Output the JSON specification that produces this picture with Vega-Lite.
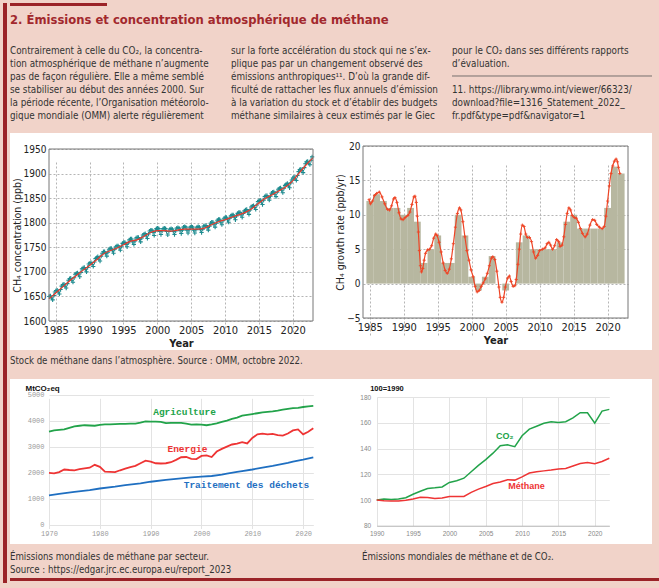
{
"$schema": "https://vega.github.io/schema/vega-lite/v6.json",
"background": "#f1d3c9",
"padding": {"left": 3, "top": 3, "right": 0, "bottom": 5},
"config": {
  "view": {"stroke": null},
  "font": "DejaVu Sans Condensed, sans-serif",
  "axis": {"labelFont": "DejaVu Sans Condensed, sans-serif", "titleFont": "DejaVu Sans Condensed, sans-serif", "labelFlush": false, "labelOverlap": false, "minExtent": 0, "tickCount": 50},
  "title": {"font": "DejaVu Sans Condensed, sans-serif"}
},
"spacing": 3,
"hconcat": [
  {"width": 4, "height": 580, "view": {"fill": "#9b2328", "stroke": null}, "data": {"values": []}, "mark": "point"},
  {"spacing": 0,
   "vconcat": [
    {"width": 97, "height": 3, "view": {"fill": "#9b2328", "stroke": null}, "data": {"values": []}, "mark": "point"},
    {"width": 642, "height": 127,
     "layer": [
      {"data": {"values": [{"t": "2. Émissions et concentration atmosphérique de méthane"}]},
       "mark": {"type": "text", "align": "left", "baseline": "middle", "fontSize": 12.9, "fontWeight": "bold", "color": "#a2282d"},
       "encoding": {
         "x": {"datum": 1, "type": "quantitative", "scale": {"domain": [1, 3], "range": [0, 442], "nice": false, "zero": false}, "axis": null},
         "y": {"datum": -1.385, "type": "quantitative", "scale": {"domain": [-2.4615, 7.3077], "range": [0, 127], "nice": false, "zero": false}, "axis": null},
         "text": {"field": "t"}
       }},
      {"data": {"values": [
        {"c": 1, "l": 1, "t": "Contrairement à celle du CO₂, la concentra-"},
        {"c": 1, "l": 2, "t": "tion atmosphérique de méthane n’augmente"},
        {"c": 1, "l": 3, "t": "pas de façon régulière. Elle a même semblé"},
        {"c": 1, "l": 4, "t": "se stabiliser au début des années 2000. Sur"},
        {"c": 1, "l": 5, "t": "la période récente, l’Organisation météorolo-"},
        {"c": 1, "l": 6, "t": "gique mondiale (OMM) alerte régulièrement"},
        {"c": 2, "l": 1, "t": "sur la forte accélération du stock qui ne s’ex-"},
        {"c": 2, "l": 2, "t": "plique pas par un changement observé des"},
        {"c": 2, "l": 3, "t": "émissions anthropiques¹¹. D’où la grande dif-"},
        {"c": 2, "l": 4, "t": "ficulté de rattacher les flux annuels d’émission"},
        {"c": 2, "l": 5, "t": "à la variation du stock et d’établir des budgets"},
        {"c": 2, "l": 6, "t": "méthane similaires à ceux estimés par le Giec"},
        {"c": 3, "l": 1, "t": "pour le CO₂ dans ses différents rapports"},
        {"c": 3, "l": 2, "t": "d’évaluation."},
        {"c": 3, "l": 4, "t": "11. https://library.wmo.int/viewer/66323/"},
        {"c": 3, "l": 5, "t": "download?file=1316_Statement_2022_"},
        {"c": 3, "l": 6, "t": "fr.pdf&type=pdf&navigator=1"}
       ]},
       "mark": {"type": "text", "align": "left", "baseline": "middle", "fontSize": 9.8, "color": "#333333"},
       "encoding": {
         "x": {"field": "c", "type": "quantitative", "axis": null},
         "y": {"field": "l", "type": "quantitative", "axis": null},
         "text": {"field": "t"}
       }},
      {"data": {"values": [{}]}, "mark": {"type": "rule", "color": "#555555", "strokeWidth": 0.8},
       "encoding": {"x": {"datum": 3, "axis": null}, "x2": {"datum": 3.905}, "y": {"datum": 2.923, "axis": null}}}
     ]},
    {"spacing": 0,
     "hconcat": [
      {"width": 321, "height": 217,
       "view": {"fill": "white", "stroke": null},
       "title": {"text": "Stock de méthane dans l’atmosphère. Source : OMM, octobre 2022.", "orient": "bottom", "anchor": "start", "offset": 14, "baseline": "alphabetic", "fontSize": 9.6, "fontWeight": "normal", "color": "#333333"},
       "layer": [
        {"data": {"values": [
{"t":1984.04,"v":1650},{"t":1984.21,"v":1651},{"t":1984.37,"v":1647},{"t":1984.54,"v":1643},{"t":1984.71,"v":1652},{"t":1984.87,"v":1659},
{"t":1985.04,"v":1662},{"t":1985.21,"v":1663},{"t":1985.37,"v":1659},{"t":1985.54,"v":1655},{"t":1985.71,"v":1664},{"t":1985.87,"v":1671},
{"t":1986.04,"v":1674},{"t":1986.21,"v":1675},{"t":1986.37,"v":1671},{"t":1986.54,"v":1667},{"t":1986.71,"v":1676},{"t":1986.87,"v":1683},
{"t":1987.04,"v":1686},{"t":1987.21,"v":1687},{"t":1987.37,"v":1683},{"t":1987.54,"v":1679},{"t":1987.71,"v":1688},{"t":1987.87,"v":1695},
{"t":1988.04,"v":1697},{"t":1988.21,"v":1698},{"t":1988.37,"v":1694},{"t":1988.54,"v":1690},{"t":1988.71,"v":1699},{"t":1988.87,"v":1706},
{"t":1989.04,"v":1708},{"t":1989.21,"v":1709},{"t":1989.37,"v":1705},{"t":1989.54,"v":1700},{"t":1989.71,"v":1709},{"t":1989.87,"v":1716},
{"t":1990.04,"v":1718},{"t":1990.21,"v":1719},{"t":1990.37,"v":1715},{"t":1990.54,"v":1711},{"t":1990.71,"v":1720},{"t":1990.87,"v":1727},
{"t":1991.04,"v":1729},{"t":1991.21,"v":1731},{"t":1991.37,"v":1726},{"t":1991.54,"v":1722},{"t":1991.71,"v":1732},{"t":1991.87,"v":1738},
{"t":1992.04,"v":1741},{"t":1992.21,"v":1741},{"t":1992.37,"v":1737},{"t":1992.54,"v":1732},{"t":1992.71,"v":1740},{"t":1992.87,"v":1746},
{"t":1993.04,"v":1748},{"t":1993.21,"v":1748},{"t":1993.37,"v":1743},{"t":1993.54,"v":1738},{"t":1993.71,"v":1746},{"t":1993.87,"v":1751},
{"t":1994.04,"v":1753},{"t":1994.21,"v":1753},{"t":1994.37,"v":1749},{"t":1994.54,"v":1744},{"t":1994.71,"v":1752},{"t":1994.87,"v":1758},
{"t":1995.04,"v":1760},{"t":1995.21,"v":1760},{"t":1995.37,"v":1756},{"t":1995.54,"v":1751},{"t":1995.71,"v":1759},{"t":1995.87,"v":1765},
{"t":1996.04,"v":1767},{"t":1996.21,"v":1767},{"t":1996.37,"v":1761},{"t":1996.54,"v":1756},{"t":1996.71,"v":1763},{"t":1996.87,"v":1769},
{"t":1997.04,"v":1770},{"t":1997.21,"v":1770},{"t":1997.37,"v":1766},{"t":1997.54,"v":1761},{"t":1997.71,"v":1769},{"t":1997.87,"v":1775},
{"t":1998.04,"v":1777},{"t":1998.21,"v":1778},{"t":1998.37,"v":1773},{"t":1998.54,"v":1768},{"t":1998.71,"v":1777},{"t":1998.87,"v":1783},
{"t":1999.04,"v":1785},{"t":1999.21,"v":1785},{"t":1999.37,"v":1780},{"t":1999.54,"v":1774},{"t":1999.71,"v":1783},{"t":1999.87,"v":1788},
{"t":2000.04,"v":1789},{"t":2000.21,"v":1788},{"t":2000.37,"v":1782},{"t":2000.54,"v":1776},{"t":2000.71,"v":1783},{"t":2000.87,"v":1788},
{"t":2001.04,"v":1789},{"t":2001.21,"v":1788},{"t":2001.37,"v":1782},{"t":2001.54,"v":1775},{"t":2001.71,"v":1782},{"t":2001.87,"v":1787},
{"t":2002.04,"v":1788},{"t":2002.21,"v":1787},{"t":2002.37,"v":1782},{"t":2002.54,"v":1776},{"t":2002.71,"v":1783},{"t":2002.87,"v":1789},
{"t":2003.04,"v":1790},{"t":2003.21,"v":1789},{"t":2003.37,"v":1784},{"t":2003.54,"v":1778},{"t":2003.71,"v":1785},{"t":2003.87,"v":1791},
{"t":2004.04,"v":1792},{"t":2004.21,"v":1791},{"t":2004.37,"v":1785},{"t":2004.54,"v":1779},{"t":2004.71,"v":1786},{"t":2004.87,"v":1791},
{"t":2005.04,"v":1792},{"t":2005.21,"v":1791},{"t":2005.37,"v":1785},{"t":2005.54,"v":1779},{"t":2005.71,"v":1786},{"t":2005.87,"v":1791},
{"t":2006.04,"v":1792},{"t":2006.21,"v":1791},{"t":2006.37,"v":1786},{"t":2006.54,"v":1780},{"t":2006.71,"v":1787},{"t":2006.87,"v":1793},
{"t":2007.04,"v":1794},{"t":2007.21,"v":1794},{"t":2007.37,"v":1790},{"t":2007.54,"v":1785},{"t":2007.71,"v":1793},{"t":2007.87,"v":1799},
{"t":2008.04,"v":1801},{"t":2008.21,"v":1801},{"t":2008.37,"v":1796},{"t":2008.54,"v":1791},{"t":2008.71,"v":1799},{"t":2008.87,"v":1805},
{"t":2009.04,"v":1807},{"t":2009.21,"v":1807},{"t":2009.37,"v":1801},{"t":2009.54,"v":1796},{"t":2009.71,"v":1804},{"t":2009.87,"v":1809},
{"t":2010.04,"v":1811},{"t":2010.21,"v":1811},{"t":2010.37,"v":1806},{"t":2010.54,"v":1801},{"t":2010.71,"v":1809},{"t":2010.87,"v":1814},
{"t":2011.04,"v":1816},{"t":2011.21,"v":1816},{"t":2011.37,"v":1811},{"t":2011.54,"v":1806},{"t":2011.71,"v":1814},{"t":2011.87,"v":1819},
{"t":2012.04,"v":1821},{"t":2012.21,"v":1821},{"t":2012.37,"v":1816},{"t":2012.54,"v":1811},{"t":2012.71,"v":1819},{"t":2012.87,"v":1824},
{"t":2013.04,"v":1826},{"t":2013.21,"v":1827},{"t":2013.37,"v":1822},{"t":2013.54,"v":1817},{"t":2013.71,"v":1826},{"t":2013.87,"v":1832},
{"t":2014.04,"v":1834},{"t":2014.21,"v":1835},{"t":2014.37,"v":1831},{"t":2014.54,"v":1827},{"t":2014.71,"v":1836},{"t":2014.87,"v":1843},
{"t":2015.04,"v":1845},{"t":2015.21,"v":1846},{"t":2015.37,"v":1842},{"t":2015.54,"v":1837},{"t":2015.71,"v":1846},{"t":2015.87,"v":1853},
{"t":2016.04,"v":1855},{"t":2016.21,"v":1855},{"t":2016.37,"v":1851},{"t":2016.54,"v":1846},{"t":2016.71,"v":1854},{"t":2016.87,"v":1860},
{"t":2017.04,"v":1862},{"t":2017.21,"v":1863},{"t":2017.37,"v":1858},{"t":2017.54,"v":1853},{"t":2017.71,"v":1862},{"t":2017.87,"v":1868},
{"t":2018.04,"v":1870},{"t":2018.21,"v":1871},{"t":2018.37,"v":1866},{"t":2018.54,"v":1861},{"t":2018.71,"v":1870},{"t":2018.87,"v":1876},
{"t":2019.04,"v":1878},{"t":2019.21,"v":1880},{"t":2019.37,"v":1875},{"t":2019.54,"v":1871},{"t":2019.71,"v":1881},{"t":2019.87,"v":1887},
{"t":2020.04,"v":1891},{"t":2020.21,"v":1893},{"t":2020.37,"v":1889},{"t":2020.54,"v":1886},{"t":2020.71,"v":1896},{"t":2020.87,"v":1904},
{"t":2021.04,"v":1908},{"t":2021.21,"v":1909},{"t":2021.37,"v":1906},{"t":2021.54,"v":1902},{"t":2021.71,"v":1912},{"t":2021.87,"v":1920},
{"t":2022.04,"v":1924},{"t":2022.21,"v":1925},{"t":2022.37,"v":1921},{"t":2022.54,"v":1918},{"t":2022.71,"v":1927},{"t":2022.87,"v":1934}
         ]},
         "mark": {"type": "point", "shape": "M-1,0H1M0,-1V1", "filled": false, "color": "#1d8b8f", "strokeWidth": 1.1, "size": 18, "opacity": 1},
         "encoding": {
           "x": {"field": "t", "type": "quantitative", "scale": {"domain": [1984, 2023], "range": [39, 303], "nice": false, "zero": false},
                 "axis": {"orient": "bottom", "offset": -29, "values": [1985,1990,1995,2000,2005,2010,2015,2020], "tickCount": 50, "format": "d", "grid": true, "gridDash": [2,2], "gridColor": "#b5b5b5", "domain": false, "ticks": false, "labelFontSize": 11, "labelColor": "#222222", "labelPadding": 3, "labelOverlap": false, "title": "Year", "titleFontSize": 11, "titleFontWeight": "bold", "titleColor": "#222222", "titlePadding": 2}},
           "y": {"field": "v", "type": "quantitative", "scale": {"domain": [1600, 1950], "range": [188, 16], "nice": false, "zero": false},
                 "axis": {"orient": "left", "offset": -39, "values": [1600,1650,1700,1750,1800,1850,1900,1950], "tickCount": 50, "format": "d", "grid": true, "gridDash": [2,2], "gridColor": "#b5b5b5", "domain": false, "ticks": false, "labelFontSize": 10, "labelColor": "#222222", "labelPadding": 3, "labelOverlap": false, "title": "CH₄ concentration (ppb)", "titleFontSize": 10.5, "titleFontWeight": "normal", "titleColor": "#222222", "titlePadding": 1}}
         }},
        {"data": {"values": [
{"t":1984,"v":1645},{"t":1985,"v":1657},{"t":1986,"v":1669},{"t":1987,"v":1681},{"t":1988,"v":1692},{"t":1989,"v":1703},{"t":1990,"v":1713},{"t":1991,"v":1724},{"t":1992,"v":1736},{"t":1993,"v":1743},{"t":1994,"v":1748},{"t":1995,"v":1755},{"t":1996,"v":1762},{"t":1997,"v":1765},{"t":1998,"v":1772},{"t":1999,"v":1780},{"t":2000,"v":1784},{"t":2001,"v":1784},{"t":2002,"v":1783},{"t":2003,"v":1785},{"t":2004,"v":1787},{"t":2005,"v":1787},{"t":2006,"v":1787},{"t":2007,"v":1789},{"t":2008,"v":1796},{"t":2009,"v":1802},{"t":2010,"v":1806},{"t":2011,"v":1811},{"t":2012,"v":1816},{"t":2013,"v":1821},{"t":2014,"v":1829},{"t":2015,"v":1840},{"t":2016,"v":1850},{"t":2017,"v":1857},{"t":2018,"v":1865},{"t":2019,"v":1873},{"t":2020,"v":1885},{"t":2021,"v":1902},{"t":2022,"v":1918},{"t":2023,"v":1932}
         ]},
         "mark": {"type": "line", "color": "#e8382b", "strokeWidth": 1.2, "interpolate": "monotone"},
         "encoding": {"x": {"field": "t", "type": "quantitative"}, "y": {"field": "v", "type": "quantitative"}}},
        {"data": {"values": [{}]}, "mark": {"type": "rect", "fillOpacity": 0, "stroke": "#777777", "strokeWidth": 1},
         "encoding": {"x": {"datum": 1984}, "x2": {"datum": 2023}, "y": {"datum": 1600}, "y2": {"datum": 1950}}}
       ]},
      {"width": 321, "height": 217,
       "view": {"fill": "white", "stroke": null},
       "layer": [
        {"data": {"values": [
{"a":1984.5,"b":1985.5,"g":12},{"a":1985.5,"b":1986.5,"g":13},{"a":1986.5,"b":1987.5,"g":12},{"a":1987.5,"b":1988.5,"g":11},{"a":1988.5,"b":1989.5,"g":11},{"a":1989.5,"b":1990.5,"g":10},{"a":1990.5,"b":1991.5,"g":11},{"a":1991.5,"b":1992.5,"g":9},{"a":1992.5,"b":1993.5,"g":3},{"a":1993.5,"b":1994.5,"g":5},{"a":1994.5,"b":1995.5,"g":7},{"a":1995.5,"b":1996.5,"g":3},{"a":1996.5,"b":1997.5,"g":3},{"a":1997.5,"b":1998.5,"g":10},{"a":1998.5,"b":1999.5,"g":7},{"a":1999.5,"b":2000.5,"g":1},{"a":2000.5,"b":2001.5,"g":-1},{"a":2001.5,"b":2002.5,"g":1},{"a":2002.5,"b":2003.5,"g":4},{"a":2003.5,"b":2004.5,"g":0},{"a":2004.5,"b":2005.5,"g":-1},{"a":2005.5,"b":2006.5,"g":0},{"a":2006.5,"b":2007.5,"g":6},{"a":2007.5,"b":2008.5,"g":7},{"a":2008.5,"b":2009.5,"g":5},{"a":2009.5,"b":2010.5,"g":5},{"a":2010.5,"b":2011.5,"g":5},{"a":2011.5,"b":2012.5,"g":5},{"a":2012.5,"b":2013.5,"g":6},{"a":2013.5,"b":2014.5,"g":9},{"a":2014.5,"b":2015.5,"g":10},{"a":2015.5,"b":2016.5,"g":8},{"a":2016.5,"b":2017.5,"g":8},{"a":2017.5,"b":2018.5,"g":8},{"a":2018.5,"b":2019.5,"g":8},{"a":2019.5,"b":2020.5,"g":11},{"a":2020.5,"b":2021.5,"g":17},{"a":2021.5,"b":2022.5,"g":16}
         ]},
         "mark": {"type": "rect", "color": "#b7b7a0"},
         "encoding": {
           "x": {"field": "a", "type": "quantitative", "scale": {"domain": [1984, 2023], "range": [32, 297], "nice": false, "zero": false},
                 "axis": {"orient": "bottom", "offset": -32, "values": [1985,1990,1995,2000,2005,2010,2015,2020], "tickCount": 50, "format": "d", "grid": true, "gridDash": [2,2], "gridColor": "#b5b5b5", "domain": false, "ticks": false, "labelFontSize": 11, "labelColor": "#222222", "labelPadding": 3, "labelOverlap": false, "title": "Year", "titleFontSize": 11, "titleFontWeight": "bold", "titleColor": "#222222", "titlePadding": 2}},
           "x2": {"field": "b"},
           "y": {"field": "g", "type": "quantitative", "scale": {"domain": [-5, 20], "range": [185, 13], "nice": false, "zero": false},
                 "axis": {"orient": "left", "offset": -32, "values": [-5,0,5,10,15,20], "tickCount": 50, "format": "d", "grid": true, "gridDash": [2,2], "gridColor": "#b5b5b5", "domain": false, "ticks": false, "labelFontSize": 10, "labelColor": "#222222", "labelPadding": 3, "labelOverlap": false, "title": "CH₄ growth rate (ppb/yr)", "titleFontSize": 10.5, "titleFontWeight": "normal", "titleColor": "#222222", "titlePadding": 1}},
           "y2": {"datum": 0}
         }},
        {"data": {"name": "gr", "values": [
{"t":1984.9,"g":12.2},{"t":1985.1,"g":11.6},{"t":1985.4,"g":12.0},{"t":1985.7,"g":12.8},{"t":1986.0,"g":13.1},{"t":1986.4,"g":13.3},{"t":1986.8,"g":12.6},{"t":1987.2,"g":11.6},{"t":1987.6,"g":10.8},{"t":1987.9,"g":10.7},{"t":1988.2,"g":11.3},{"t":1988.5,"g":12.3},{"t":1988.7,"g":12.5},{"t":1989.0,"g":11.8},{"t":1989.3,"g":10.3},{"t":1989.6,"g":9.4},{"t":1989.9,"g":9.3},{"t":1990.2,"g":9.6},{"t":1990.6,"g":9.9},{"t":1990.9,"g":10.4},{"t":1991.2,"g":11.5},{"t":1991.5,"g":12.6},{"t":1991.65,"g":12.7},{"t":1991.85,"g":11.8},{"t":1992.0,"g":9.8},{"t":1992.15,"g":7.5},{"t":1992.3,"g":4.8},{"t":1992.45,"g":2.6},{"t":1992.6,"g":1.7},{"t":1992.8,"g":2.2},{"t":1993.0,"g":3.4},{"t":1993.2,"g":4.4},{"t":1993.5,"g":4.9},{"t":1993.8,"g":5.0},{"t":1994.1,"g":5.5},{"t":1994.4,"g":6.6},{"t":1994.7,"g":7.2},{"t":1994.9,"g":7.0},{"t":1995.2,"g":6.0},{"t":1995.5,"g":4.6},{"t":1995.8,"g":3.0},{"t":1996.1,"g":1.9},{"t":1996.4,"g":1.5},{"t":1996.7,"g":2.1},{"t":1997.0,"g":3.6},{"t":1997.3,"g":5.8},{"t":1997.6,"g":8.2},{"t":1997.9,"g":10.2},{"t":1998.2,"g":11.0},{"t":1998.4,"g":10.7},{"t":1998.7,"g":9.0},{"t":1999.0,"g":6.8},{"t":1999.3,"g":4.8},{"t":1999.6,"g":3.4},{"t":1999.9,"g":2.0},{"t":2000.2,"g":1.0},{"t":2000.5,"g":-0.4},{"t":2000.8,"g":-1.2},{"t":2001.1,"g":-1.0},{"t":2001.4,"g":-0.4},{"t":2001.7,"g":0.1},{"t":2002.0,"g":0.7},{"t":2002.3,"g":1.5},{"t":2002.6,"g":2.6},{"t":2002.9,"g":3.7},{"t":2003.1,"g":3.9},{"t":2003.4,"g":3.5},{"t":2003.7,"g":1.8},{"t":2004.0,"g":-0.5},{"t":2004.2,"g":-2.0},{"t":2004.45,"g":-2.7},{"t":2004.7,"g":-2.0},{"t":2004.95,"g":-0.5},{"t":2005.3,"g":0.8},{"t":2005.55,"g":1.1},{"t":2005.8,"g":0.3},{"t":2006.1,"g":-0.4},{"t":2006.35,"g":-0.3},{"t":2006.55,"g":0.6},{"t":2006.8,"g":2.8},{"t":2007.0,"g":5.0},{"t":2007.2,"g":7.2},{"t":2007.45,"g":8.5},{"t":2007.7,"g":8.3},{"t":2007.95,"g":7.2},{"t":2008.2,"g":6.7},{"t":2008.5,"g":6.7},{"t":2008.8,"g":6.1},{"t":2009.1,"g":4.6},{"t":2009.4,"g":3.7},{"t":2009.7,"g":4.1},{"t":2010.0,"g":4.8},{"t":2010.4,"g":5.0},{"t":2010.8,"g":5.2},{"t":2011.1,"g":5.8},{"t":2011.35,"g":6.0},{"t":2011.6,"g":5.6},{"t":2011.9,"g":5.0},{"t":2012.2,"g":5.5},{"t":2012.5,"g":6.4},{"t":2012.8,"g":6.1},{"t":2013.0,"g":5.4},{"t":2013.3,"g":5.6},{"t":2013.55,"g":6.8},{"t":2013.8,"g":8.6},{"t":2014.05,"g":10.2},{"t":2014.3,"g":11.0},{"t":2014.55,"g":10.7},{"t":2014.8,"g":9.9},{"t":2015.1,"g":9.6},{"t":2015.4,"g":9.5},{"t":2015.7,"g":8.9},{"t":2016.0,"g":8.0},{"t":2016.3,"g":7.3},{"t":2016.7,"g":6.8},{"t":2017.0,"g":7.2},{"t":2017.4,"g":8.5},{"t":2017.8,"g":9.3},{"t":2018.1,"g":9.2},{"t":2018.4,"g":8.6},{"t":2018.8,"g":8.2},{"t":2019.2,"g":8.0},{"t":2019.5,"g":8.3},{"t":2019.75,"g":9.8},{"t":2020.0,"g":12.0},{"t":2020.25,"g":14.2},{"t":2020.5,"g":16.0},{"t":2020.75,"g":17.1},{"t":2021.0,"g":17.8},{"t":2021.25,"g":18.1},{"t":2021.45,"g":17.7},{"t":2021.6,"g":16.9},{"t":2021.8,"g":16.0}
         ]},
         "mark": {"type": "line", "color": "#ee4526", "strokeWidth": 1.2, "interpolate": "monotone"},
         "encoding": {"x": {"field": "t", "type": "quantitative"}, "y": {"field": "g", "type": "quantitative"}}},
        {"data": {"name": "gr"},
         "mark": {"type": "point", "shape": "M-1,0H1M0,-1V1", "filled": false, "color": "#ee4526", "strokeWidth": 0.9, "size": 10, "opacity": 1},
         "encoding": {"x": {"field": "t", "type": "quantitative"}, "y": {"field": "g", "type": "quantitative"}}},
        {"data": {"values": [{}]}, "mark": {"type": "rect", "fillOpacity": 0, "stroke": "#777777", "strokeWidth": 1},
         "encoding": {"x": {"datum": 1984}, "x2": {"datum": 2023}, "y": {"datum": -5}, "y2": {"datum": 20}}}
       ]}
     ]},
    {"width": 1, "height": 12.2, "data": {"values": []}, "mark": "point"},
    {"spacing": 0,
     "hconcat": [
      {"width": 320, "height": 165,
       "view": {"fill": "white", "stroke": null},
       "title": {"text": ["Émissions mondiales de méthane par secteur.", "Source : https://edgar.jrc.ec.europa.eu/report_2023"], "orient": "bottom", "anchor": "start", "offset": 16, "baseline": "alphabetic", "lineHeight": 13, "fontSize": 9.6, "fontWeight": "normal", "color": "#333333"},
       "layer": [
        {"data": {"values": [
{"s":"agr","year":1970,"v":3570},{"s":"agr","year":1971,"v":3620},{"s":"agr","year":1972,"v":3640},{"s":"agr","year":1973,"v":3660},{"s":"agr","year":1974,"v":3720},{"s":"agr","year":1975,"v":3780},{"s":"agr","year":1976,"v":3800},{"s":"agr","year":1977,"v":3820},{"s":"agr","year":1978,"v":3810},{"s":"agr","year":1979,"v":3800},{"s":"agr","year":1980,"v":3830},{"s":"agr","year":1981,"v":3850},{"s":"agr","year":1982,"v":3850},{"s":"agr","year":1983,"v":3860},{"s":"agr","year":1984,"v":3870},{"s":"agr","year":1985,"v":3870},{"s":"agr","year":1986,"v":3880},{"s":"agr","year":1987,"v":3880},{"s":"agr","year":1988,"v":3920},{"s":"agr","year":1989,"v":3970},{"s":"agr","year":1990,"v":3960},{"s":"agr","year":1991,"v":3960},{"s":"agr","year":1992,"v":3950},{"s":"agr","year":1993,"v":3900},{"s":"agr","year":1994,"v":3910},{"s":"agr","year":1995,"v":3910},{"s":"agr","year":1996,"v":3910},{"s":"agr","year":1997,"v":3880},{"s":"agr","year":1998,"v":3840},{"s":"agr","year":1999,"v":3850},{"s":"agr","year":2000,"v":3840},{"s":"agr","year":2001,"v":3820},{"s":"agr","year":2002,"v":3850},{"s":"agr","year":2003,"v":3890},{"s":"agr","year":2004,"v":3950},{"s":"agr","year":2005,"v":4000},{"s":"agr","year":2006,"v":4060},{"s":"agr","year":2007,"v":4110},{"s":"agr","year":2008,"v":4190},{"s":"agr","year":2009,"v":4220},{"s":"agr","year":2010,"v":4250},{"s":"agr","year":2011,"v":4280},{"s":"agr","year":2012,"v":4310},{"s":"agr","year":2013,"v":4330},{"s":"agr","year":2014,"v":4350},{"s":"agr","year":2015,"v":4380},{"s":"agr","year":2016,"v":4420},{"s":"agr","year":2017,"v":4450},{"s":"agr","year":2018,"v":4480},{"s":"agr","year":2019,"v":4490},{"s":"agr","year":2020,"v":4520},{"s":"agr","year":2021,"v":4540},{"s":"agr","year":2022,"v":4560},
{"s":"ene","year":1970,"v":1990},{"s":"ene","year":1971,"v":1970},{"s":"ene","year":1972,"v":2020},{"s":"ene","year":1973,"v":2120},{"s":"ene","year":1974,"v":2100},{"s":"ene","year":1975,"v":2090},{"s":"ene","year":1976,"v":2130},{"s":"ene","year":1977,"v":2160},{"s":"ene","year":1978,"v":2190},{"s":"ene","year":1979,"v":2300},{"s":"ene","year":1980,"v":2220},{"s":"ene","year":1981,"v":2040},{"s":"ene","year":1982,"v":2030},{"s":"ene","year":1983,"v":2020},{"s":"ene","year":1984,"v":2090},{"s":"ene","year":1985,"v":2150},{"s":"ene","year":1986,"v":2210},{"s":"ene","year":1987,"v":2260},{"s":"ene","year":1988,"v":2360},{"s":"ene","year":1989,"v":2460},{"s":"ene","year":1990,"v":2420},{"s":"ene","year":1991,"v":2360},{"s":"ene","year":1992,"v":2350},{"s":"ene","year":1993,"v":2360},{"s":"ene","year":1994,"v":2400},{"s":"ene","year":1995,"v":2490},{"s":"ene","year":1996,"v":2590},{"s":"ene","year":1997,"v":2600},{"s":"ene","year":1998,"v":2530},{"s":"ene","year":1999,"v":2520},{"s":"ene","year":2000,"v":2640},{"s":"ene","year":2001,"v":2660},{"s":"ene","year":2002,"v":2600},{"s":"ene","year":2003,"v":2810},{"s":"ene","year":2004,"v":2910},{"s":"ene","year":2005,"v":3000},{"s":"ene","year":2006,"v":3080},{"s":"ene","year":2007,"v":3110},{"s":"ene","year":2008,"v":3170},{"s":"ene","year":2009,"v":3120},{"s":"ene","year":2010,"v":3330},{"s":"ene","year":2011,"v":3470},{"s":"ene","year":2012,"v":3500},{"s":"ene","year":2013,"v":3470},{"s":"ene","year":2014,"v":3490},{"s":"ene","year":2015,"v":3440},{"s":"ene","year":2016,"v":3420},{"s":"ene","year":2017,"v":3500},{"s":"ene","year":2018,"v":3620},{"s":"ene","year":2019,"v":3660},{"s":"ene","year":2020,"v":3470},{"s":"ene","year":2021,"v":3570},{"s":"ene","year":2022,"v":3700},
{"s":"dec","year":1970,"v":1130},{"s":"dec","year":1972,"v":1180},{"s":"dec","year":1975,"v":1260},{"s":"dec","year":1978,"v":1330},{"s":"dec","year":1980,"v":1390},{"s":"dec","year":1983,"v":1460},{"s":"dec","year":1985,"v":1520},{"s":"dec","year":1988,"v":1590},{"s":"dec","year":1990,"v":1650},{"s":"dec","year":1993,"v":1720},{"s":"dec","year":1995,"v":1760},{"s":"dec","year":1998,"v":1820},{"s":"dec","year":2000,"v":1850},{"s":"dec","year":2002,"v":1870},{"s":"dec","year":2004,"v":1920},{"s":"dec","year":2005,"v":1960},{"s":"dec","year":2007,"v":2030},{"s":"dec","year":2008,"v":2060},{"s":"dec","year":2010,"v":2120},{"s":"dec","year":2012,"v":2190},{"s":"dec","year":2014,"v":2260},{"s":"dec","year":2015,"v":2300},{"s":"dec","year":2017,"v":2370},{"s":"dec","year":2018,"v":2420},{"s":"dec","year":2020,"v":2500},{"s":"dec","year":2022,"v":2590}
         ]},
         "mark": {"type": "line", "strokeWidth": 1.8},
         "encoding": {
           "x": {"field": "year", "type": "quantitative", "scale": {"domain": [1970, 2022], "range": [39, 303.3], "nice": false, "zero": false},
                 "axis": {"orient": "bottom", "offset": -19.3, "values": [1970,1980,1990,2000,2010,2020], "tickCount": 50, "format": "d", "grid": true, "gridColor": "#e3e3e3", "domain": false, "ticks": false, "labelFont": "Liberation Mono", "labelFontSize": 7, "labelColor": "#9a9a9a", "labelPadding": 5, "labelOverlap": false, "title": null}},
           "y": {"field": "v", "type": "quantitative", "scale": {"domain": [0, 5000], "range": [145.7, 15.5], "nice": false, "zero": false},
                 "axis": {"orient": "left", "offset": -39, "values": [0,1000,2000,3000,4000,5000], "tickCount": 50, "format": "d", "grid": true, "gridColor": "#e3e3e3", "domain": false, "ticks": false, "labelFont": "Liberation Mono", "labelFontSize": 7, "labelColor": "#9a9a9a", "labelPadding": 5, "labelOverlap": false, "title": "MtCO₂eq", "titleAngle": 0, "titleAlign": "left", "titleBaseline": "middle", "titleX": -24, "titleY": 9, "titleFont": "Liberation Sans", "titleFontSize": 8, "titleFontWeight": "bold", "titleColor": "#111111"}},
           "color": {"field": "s", "type": "nominal", "scale": {"domain": ["agr", "ene", "dec"], "range": ["#22a34a", "#ee3434", "#1f6fc1"]}, "legend": null}
         }},
        {"data": {"values": [
          {"s": "agr", "lab": "Agriculture", "year": 1990.5, "v": 4335},
          {"s": "ene", "lab": "Energie", "year": 1993.3, "v": 2910},
          {"s": "dec", "lab": "Traitement des déchets", "year": 1996.5, "v": 1540}
         ]},
         "mark": {"type": "text", "align": "left", "baseline": "middle", "font": "Liberation Mono", "fontSize": 9.5, "fontWeight": "bold"},
         "encoding": {
           "x": {"field": "year", "type": "quantitative"},
           "y": {"field": "v", "type": "quantitative"},
           "text": {"field": "lab"},
           "color": {"field": "s", "type": "nominal", "legend": null}
         }}
       ]},
      {"width": 322, "height": 165,
       "view": {"fill": "white", "stroke": null},
       "title": {"text": "Émissions mondiales de méthane et de CO₂.", "orient": "bottom", "anchor": "start", "offset": 16, "dx": 32, "baseline": "alphabetic", "fontSize": 9.6, "fontWeight": "normal", "color": "#333333"},
       "layer": [
        {"data": {"values": [
{"s":"co2","year":1990,"v":100},{"s":"co2","year":1991,"v":100.8},{"s":"co2","year":1992,"v":100.5},{"s":"co2","year":1993,"v":100.8},{"s":"co2","year":1994,"v":101.8},{"s":"co2","year":1995,"v":104.5},{"s":"co2","year":1996,"v":106.8},{"s":"co2","year":1997,"v":109},{"s":"co2","year":1998,"v":109.5},{"s":"co2","year":1999,"v":110.2},{"s":"co2","year":2000,"v":113.7},{"s":"co2","year":2001,"v":115},{"s":"co2","year":2002,"v":117},{"s":"co2","year":2003,"v":122},{"s":"co2","year":2004,"v":127},{"s":"co2","year":2005,"v":131.5},{"s":"co2","year":2006,"v":136.5},{"s":"co2","year":2007,"v":142.3},{"s":"co2","year":2008,"v":143},{"s":"co2","year":2009,"v":141.6},{"s":"co2","year":2010,"v":150},{"s":"co2","year":2011,"v":155.2},{"s":"co2","year":2012,"v":157.5},{"s":"co2","year":2013,"v":159.8},{"s":"co2","year":2014,"v":161},{"s":"co2","year":2015,"v":160.3},{"s":"co2","year":2016,"v":161},{"s":"co2","year":2017,"v":164},{"s":"co2","year":2018,"v":168},{"s":"co2","year":2019,"v":168},{"s":"co2","year":2020,"v":159.8},{"s":"co2","year":2021,"v":169.3},{"s":"co2","year":2022,"v":170.6},
{"s":"ch4","year":1990,"v":100},{"s":"ch4","year":1991,"v":99.5},{"s":"ch4","year":1992,"v":99.3},{"s":"ch4","year":1993,"v":99.3},{"s":"ch4","year":1994,"v":99.8},{"s":"ch4","year":1995,"v":100.8},{"s":"ch4","year":1996,"v":102.2},{"s":"ch4","year":1997,"v":102},{"s":"ch4","year":1998,"v":101.2},{"s":"ch4","year":1999,"v":101.5},{"s":"ch4","year":2000,"v":102.8},{"s":"ch4","year":2001,"v":102.8},{"s":"ch4","year":2002,"v":102.8},{"s":"ch4","year":2003,"v":106},{"s":"ch4","year":2004,"v":108.5},{"s":"ch4","year":2005,"v":110.5},{"s":"ch4","year":2006,"v":112.8},{"s":"ch4","year":2007,"v":114},{"s":"ch4","year":2008,"v":115.8},{"s":"ch4","year":2009,"v":115.5},{"s":"ch4","year":2010,"v":118},{"s":"ch4","year":2011,"v":121},{"s":"ch4","year":2012,"v":122},{"s":"ch4","year":2013,"v":122.7},{"s":"ch4","year":2014,"v":123.3},{"s":"ch4","year":2015,"v":124.2},{"s":"ch4","year":2016,"v":124.5},{"s":"ch4","year":2017,"v":126.5},{"s":"ch4","year":2018,"v":128.5},{"s":"ch4","year":2019,"v":129.2},{"s":"ch4","year":2020,"v":128.3},{"s":"ch4","year":2021,"v":130},{"s":"ch4","year":2022,"v":132.5}
         ]},
         "mark": {"type": "line", "strokeWidth": 1.5},
         "encoding": {
           "x": {"field": "year", "type": "quantitative", "scale": {"domain": [1990, 2022], "range": [46.7, 279.3], "nice": false, "zero": false},
                 "axis": {"orient": "bottom", "offset": -18.3, "values": [1990,1995,2000,2005,2010,2015,2020], "tickCount": 50, "format": "d", "grid": true, "gridColor": "#e3e3e3", "domain": true, "domainColor": "#bbbbbb", "ticks": false, "labelFont": "Liberation Sans", "labelFontSize": 6.5, "labelColor": "#888888", "labelPadding": 5, "labelOverlap": false, "title": null}},
           "y": {"field": "v", "type": "quantitative", "scale": {"domain": [80, 180], "range": [146.7, 18.3], "nice": false, "zero": false},
                 "axis": {"orient": "left", "offset": -46.7, "values": [80,100,120,140,160,180], "tickCount": 50, "format": "d", "grid": true, "gridColor": "#e3e3e3", "domain": false, "ticks": false, "labelFont": "Liberation Sans", "labelFontSize": 6.5, "labelColor": "#888888", "labelPadding": 6, "labelOverlap": false, "title": "100=1990", "titleAngle": 0, "titleAlign": "left", "titleBaseline": "middle", "titleX": -7, "titleY": 9, "titleFont": "Liberation Sans", "titleFontSize": 7.5, "titleFontWeight": "bold", "titleColor": "#111111"}},
           "color": {"field": "s", "type": "nominal", "scale": {"domain": ["co2", "ch4"], "range": ["#ee3b30", "#1aa35a"]}, "legend": null}
         }},
        {"data": {"values": [
          {"s": "co2", "lab": "CO₂", "year": 2006.4, "v": 150},
          {"s": "ch4", "lab": "Méthane", "year": 2008.1, "v": 110.7}
         ]},
         "mark": {"type": "text", "align": "left", "baseline": "middle", "font": "Liberation Sans", "fontSize": 9, "fontWeight": "bold"},
         "encoding": {
           "x": {"field": "year", "type": "quantitative"},
           "y": {"field": "v", "type": "quantitative"},
           "text": {"field": "lab"},
           "color": {"field": "s", "type": "nominal", "legend": null}
         }}
       ]}
     ]},
    {"width": 1, "height": 2.3, "data": {"values": []}, "mark": "point"},
    {"width": 649, "height": 3, "view": {"fill": "#9b2328", "stroke": null}, "data": {"values": []}, "mark": "point"}
   ]}
]
}
